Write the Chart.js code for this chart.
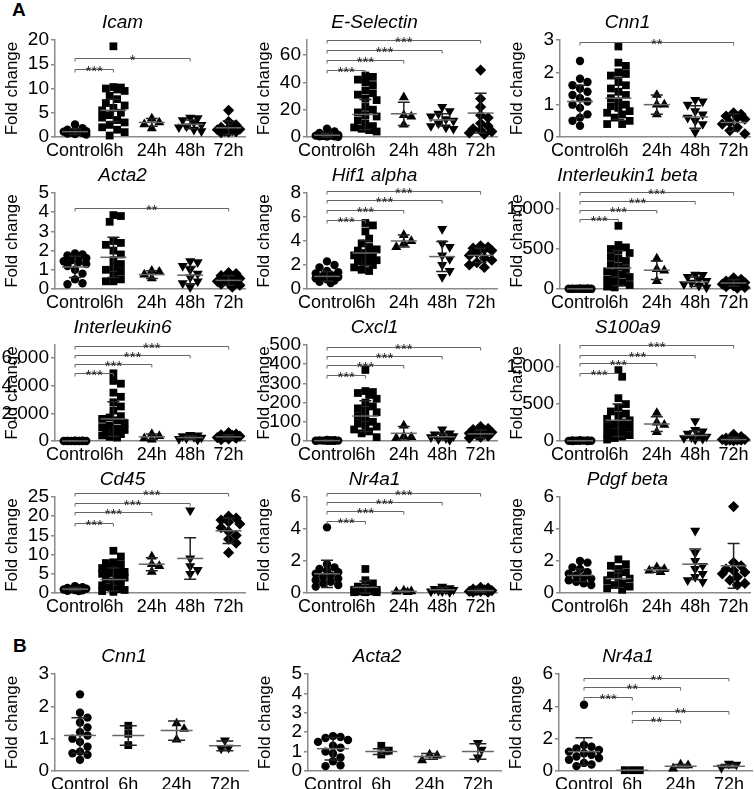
<!DOCTYPE html>
<html>
<head>
<meta charset="utf-8">
<script src="https://cdn.jsdelivr.net/npm/chart.js@4.4.1/dist/chart.umd.min.js"></script>
<style>
  html, body { margin: 0; padding: 0; background: #fff; overflow: hidden; }
  #fig { position: relative; width: 754px; height: 789px; overflow: hidden; }
  .panel { position: absolute; }
  .tag { position: absolute; font: bold 19px 'Liberation Sans', Arial, sans-serif; color: #000; }
</style>
</head>
<body>
<div id="fig">
  <div class="tag" style="left:12px; top:-1px;">A</div>
  <div class="tag" style="left:13px; top:635px;">B</div>
</div>
<script>
// groups and tick labels
const groupsA = ['Control', '6h', '24h', '48h', '72h'];
const groupsB = ['Control', '6h', '24h', '72h'];

// ---- A: Icam ----
const icamValues = [
  [2.6, 1.8, 1.5, 1.3, 1.2, 1.1, 1.0, 0.9, 0.8, 0.7, 0.6, 0.5],
  [18.7, 10.3, 10.2, 10.0, 9.8, 9.5, 8.5, 7.8, 7.0, 6.5, 6.0, 5.5, 5.0, 4.5, 4.0, 3.5, 3.0, 2.5, 2.0, 1.5, 1.0, 0.3],
  [3.8, 3.0, 2.6, 1.8],
  [4.0, 3.9, 3.5, 3.0, 2.5, 2.2, 2.0, 1.5, 1.2],
  [5.5, 3.2, 2.5, 2.0, 1.8, 1.6, 1.5, 1.3, 1.2, 1.1, 1.0, 0.9]
];
const icamMean = [1.1, 5.5, 3.0, 2.6, 1.9];
const icamSd = [0.6, 2.3, 0.8, 0.9, 1.4];
const icamSig = [[0, 1, 14.1, '***'], [0, 3, 16.2, '*']];
const icamTicks = [0, 5, 10, 15, 20];

// ---- A: E-Selectin ----
const eselValues = [
  [6, 4, 3, 2, 1.5, 1, 1, 0.8, 0.5, 0.5, 0.3, 0.2],
  [45, 44, 42, 40, 38, 34, 32, 31, 28, 27, 22, 20, 18, 16, 15, 12, 10, 8, 7, 6, 5, 4],
  [29, 16, 15, 9],
  [22, 19, 17, 15, 13, 12, 10, 8, 7, 6],
  [49, 28, 22, 16, 14, 10, 8, 6, 5, 4, 3, 2]
];
const eselMean = [1.3, 16.5, 17, 12.5, 17.5];
const eselSd = [1.5, 11, 8.5, 4.5, 14.5];
const eselSig = [[0, 1, 49, '***'], [0, 2, 56.5, '***'], [0, 3, 64, '***'], [0, 4, 71, '***']];
const eselTicks = [0, 20, 40, 60];

// ---- A: Cnn1 ----
const cnn1Values = [
  [2.35, 1.8, 1.7, 1.6, 1.5, 1.4, 1.3, 1.2, 1.1, 1.0, 0.9, 0.7, 0.6, 0.5, 0.35],
  [2.8, 2.3, 2.2, 2.0, 1.95, 1.9, 1.7, 1.6, 1.5, 1.4, 1.3, 1.2, 1.1, 1.0, 0.95, 0.9, 0.8, 0.75, 0.7, 0.6, 0.5, 0.4, 0.4],
  [1.3, 1.0, 1.0, 0.7],
  [1.15, 1.1, 1.0, 0.8, 0.7, 0.6, 0.5, 0.4, 0.15],
  [0.75, 0.7, 0.65, 0.6, 0.55, 0.45, 0.4, 0.3, 0.2, 0.1]
];
const cnn1Mean = [1.1, 1.2, 1.0, 0.62, 0.45];
const cnn1Sd = [0.5, 0.65, 0.3, 0.35, 0.27];
const cnn1Sig = [[0, 4, 2.95, '**']];
const cnn1Ticks = [0, 1, 2, 3];

// ---- A: Acta2 ----
const acta2Values = [
  [1.85, 1.8, 1.75, 1.7, 1.6, 1.5, 1.45, 1.4, 1.3, 1.2, 1.0, 0.8, 0.5, 0.3, 0.25],
  [3.85, 3.8, 3.5, 2.5, 2.4, 2.3, 2.0, 1.8, 1.5, 1.3, 1.1, 1.0, 0.9, 0.7, 0.5, 0.4, 0.4],
  [0.95, 0.9, 0.75, 0.55],
  [1.45, 1.4, 1.2, 1.0, 0.8, 0.6, 0.4, 0.3, 0.1],
  [0.85, 0.8, 0.7, 0.6, 0.55, 0.5, 0.4, 0.35, 0.3, 0.25, 0.2, 0.1]
];
const acta2Mean = [1.15, 1.65, 0.75, 0.72, 0.45];
const acta2Sd = [0.55, 1.05, 0.2, 0.45, 0.25];
const acta2Sig = [[0, 4, 4.2, '**']];
const acta2Ticks = [0, 1, 2, 3, 4, 5];

// ---- A: Hif1 alpha ----
const hif1Values = [
  [2.3, 2.0, 1.8, 1.5, 1.4, 1.3, 1.2, 1.1, 1.0, 0.9, 0.8, 0.7, 0.6, 0.5],
  [5.5, 5.3, 4.8, 4.2, 3.8, 3.5, 3.3, 3.2, 3.0, 2.9, 2.8, 2.7, 2.5, 2.4, 2.3, 2.2, 2.0, 1.8, 1.6, 1.5],
  [4.5, 4.0, 3.8, 3.5],
  [5.0, 3.8, 3.5, 2.8, 2.5, 2.0, 1.5, 1.0],
  [3.6, 3.5, 3.4, 3.3, 3.2, 3.0, 2.8, 2.6, 2.4, 2.2, 2.0, 1.8]
];
const hif1Mean = [1.05, 3.0, 4.0, 2.7, 2.8];
const hif1Sd = [0.4, 1.05, 0.5, 1.25, 0.6];
const hif1Sig = [[0, 1, 5.76, '***'], [0, 2, 6.57, '***'], [0, 3, 7.38, '***'], [0, 4, 8.15, '***']];
const hif1Ticks = [0, 2, 4, 6, 8];

// ---- A: Interleukin1 beta ----
const il1bValues = [
  [8, 6, 5, 4, 4, 3, 3, 2, 2, 1, 1, 1],
  [790, 550, 520, 500, 480, 450, 400, 380, 350, 300, 280, 250, 220, 200, 180, 150, 120, 100, 80, 50, 30, 20],
  [380, 250, 230, 100],
  [180, 175, 150, 120, 100, 80, 60, 40, 20],
  [140, 120, 100, 90, 80, 70, 60, 50, 40, 30, 20, 10]
];
const il1bMean = [2, 262, 235, 90, 75];
const il1bSd = [2, 220, 115, 60, 40];
const il1bSig = [[0, 1, 869, '***'], [0, 2, 992, '***'], [0, 3, 1102, '***'], [0, 4, 1215, '***']];
const il1bTicks = [0, 500, 1000];

// ---- A: Interleukin6 ----
const il6Values = [
  [20, 15, 10, 8, 5, 5, 3, 2, 2, 1, 1],
  [4900, 4350, 4150, 3500, 3200, 2800, 2500, 2200, 1800, 1700, 1600, 1500, 1300, 1100, 1000, 900, 800, 700, 600, 500, 400, 300, 250],
  [500, 350, 200, 100],
  [450, 400, 350, 300, 250, 200, 150, 100],
  [600, 500, 450, 400, 350, 300, 250, 200, 150, 100]
];
const il6Mean = [5, 1600, 300, 250, 300];
const il6Sd = [5, 1250, 200, 120, 160];
const il6Sig = [[0, 1, 4920, '***'], [0, 2, 5600, '***'], [0, 3, 6250, '***'], [0, 4, 6900, '***']];
const il6Ticks = [0, 2000, 4000, 6000];

// ---- A: Cxcl1 ----
const cxcl1Values = [
  [5, 4, 3, 3, 2, 2, 1, 1, 1, 1],
  [370, 260, 255, 250, 240, 220, 200, 180, 170, 160, 150, 130, 120, 100, 90, 80, 75, 60, 50, 40, 20],
  [80, 25, 20, 15],
  [60, 40, 35, 30, 25, 20, 15, 10, 5],
  [75, 65, 60, 50, 45, 40, 35, 30, 25, 20, 15]
];
const cxcl1Mean = [2, 130, 40, 22, 37];
const cxcl1Sd = [1.5, 80, 35, 15, 20];
const cxcl1Sig = [[0, 1, 342, '***'], [0, 2, 394, '***'], [0, 3, 443, '***'], [0, 4, 491, '***']];
const cxcl1Ticks = [0, 100, 200, 300, 400, 500];

// ---- A: S100a9 ----
const s100Values = [
  [10, 8, 6, 5, 4, 3, 2, 2, 1, 1],
  [960, 870, 580, 500, 450, 400, 370, 340, 300, 280, 250, 220, 200, 180, 150, 120, 100, 80, 60, 40, 20],
  [380, 250, 220, 120],
  [270, 150, 130, 100, 80, 60, 50, 40, 30, 20],
  [90, 60, 40, 30, 20, 20, 15, 10, 10, 5, 5]
];
const s100Mean = [4, 280, 230, 75, 20];
const s100Sd = [3, 220, 100, 65, 30];
const s100Sig = [[0, 1, 923, '***'], [0, 2, 1050, '***'], [0, 3, 1171, '***'], [0, 4, 1297, '***']];
const s100Ticks = [0, 500, 1000];

// ---- A: Cd45 ----
const cd45Values = [
  [1.8, 1.5, 1.3, 1.2, 1.1, 1.0, 0.9, 0.8, 0.7, 0.6, 0.5],
  [11, 9.5, 8, 7.8, 7.5, 7, 6.5, 6, 5.5, 5.2, 5, 4.5, 4, 3.5, 3, 2.5, 2, 1.5, 1, 0.8, 0.5, 0.3],
  [9.5, 7.5, 7, 5.5],
  [21.5, 9, 7, 6, 5],
  [20, 19.5, 19, 18.5, 18, 17, 16, 15, 14, 13, 10.5]
];
const cd45Mean = [1.0, 3.5, 7.5, 9, 16.2];
const cd45Sd = [0.4, 3.0, 1.7, 5.4, 3.3];
const cd45Sig = [[0, 1, 18.3, '***'], [0, 2, 21, '***'], [0, 3, 23.5, '***'], [0, 4, 26, '***']];
const cd45Ticks = [0, 5, 10, 15, 20, 25];

// ---- A: Nr4a1 ----
const nr4a1Values = [
  [4.1, 1.8, 1.6, 1.5, 1.4, 1.3, 1.2, 1.1, 1.0, 0.9, 0.8, 0.7, 0.6, 0.5, 0.4],
  [1.5, 0.8, 0.6, 0.4, 0.3, 0.2, 0.2, 0.15, 0.1, 0.1, 0.05, 0.05, 0.05, 0.1],
  [0.15, 0.1, 0.08, 0.05],
  [0.4, 0.3, 0.25, 0.2, 0.2, 0.15, 0.1, 0.1, 0.05],
  [0.35, 0.3, 0.25, 0.2, 0.15, 0.15, 0.1, 0.1, 0.05, 0.05]
];
const nr4a1Mean = [1.2, 0.35, 0.1, 0.2, 0.15];
const nr4a1Sd = [0.85, 0.4, 0.05, 0.15, 0.1];
const nr4a1Sig = [[0, 1, 4.5, '***'], [0, 2, 5.1, '***'], [0, 3, 5.7, '***'], [0, 4, 6.28, '***']];
const sixTicks = [0, 2, 4, 6];

// ---- A: Pdgf beta ----
const pdgfValues = [
  [2.0, 1.9, 1.6, 1.5, 1.3, 1.2, 1.1, 1.0, 0.9, 0.8, 0.7, 0.6, 0.5],
  [2.1, 1.8, 1.7, 1.5, 1.3, 1.1, 1.0, 0.9, 0.8, 0.6, 0.5, 0.4, 0.3, 0.2],
  [1.6, 1.5, 1.4, 1.3],
  [3.9, 2.5, 2.0, 1.7, 1.5, 1.2, 1.0, 0.8, 0.7],
  [5.4, 1.9, 1.7, 1.5, 1.4, 1.3, 1.2, 1.0, 0.8, 0.6, 0.5]
];
const pdgfMean = [1.1, 0.9, 1.45, 1.8, 1.7];
const pdgfSd = [0.4, 0.55, 0.15, 0.95, 1.4];

// ---- B: Cnn1 ----
const bCnn1Values = [
  [2.37, 1.8, 1.65, 1.5, 1.35, 1.2, 1.1, 1.0, 0.9, 0.75, 0.6, 0.55, 0.5, 0.35],
  [1.4, 1.15, 0.8],
  [1.47, 1.3, 0.97],
  [0.95, 0.72, 0.7]
];
const bCnn1Mean = [1.1, 1.1, 1.25, 0.78];
const bCnn1Sd = [0.55, 0.3, 0.3, 0.15];

// ---- B: Acta2 ----
const bActa2Values = [
  [1.8, 1.75, 1.7, 1.6, 1.5, 1.3, 1.2, 1.0, 0.9, 0.7, 0.5, 0.3, 0.25],
  [1.3, 1.05, 0.85],
  [0.85, 0.8, 0.55],
  [1.45, 1.1, 0.7]
];
const bActa2Mean = [1.15, 1.0, 0.75, 1.0];
const bActa2Sd = [0.58, 0.15, 0.15, 0.4];

// ---- B: Nr4a1 ----
const bNr4a1Values = [
  [4.1, 1.6, 1.5, 1.4, 1.3, 1.2, 1.1, 1.0, 0.9, 0.8, 0.7, 0.5, 0.4, 0.3],
  [0.05, 0.05, 0.05],
  [0.4, 0.35, 0.15],
  [0.45, 0.4, 0.2]
];
const bNr4a1Mean = [1.2, 0.05, 0.3, 0.3];
const bNr4a1Sd = [0.85, 0.02, 0.1, 0.1];
const bNr4a1Sig = [[0, 1, 4.55, '***'], [0, 2, 5.18, '**'], [0, 3, 5.76, '**'], [1, 3, 3.73, '**'], [1, 2, 3.13, '**']];

// ---- layout / styling ----
const FONT = "'Liberation Sans', Arial, sans-serif";
const AXIS_COLOR = '#8a8a8a';
const styleA = { labels: groupsA, shapes: ['circle', 'rect', 'triangle', 'triangle', 'rectRot'], rot: [0, 0, 0, 180, 0], width: 190, first: 20, step: 38.4, halfMean: 13, halfCap: 6, spread: 13 };
const styleB = { labels: groupsB, shapes: ['circle', 'rect', 'triangle', 'triangle'], rot: [0, 0, 0, 180], width: 193, first: 25, step: 48.3, halfMean: 16, halfCap: 8.5, spread: 15 };
const radius = { circle: 4.2, rect: 5.5, triangle: 5.8, rectRot: 5.6 };

const panels = [
  { title: 'Icam', v: icamValues, m: icamMean, sd: icamSd, sig: icamSig, ticks: icamTicks, max: 20, x: 55, top: 40, h: 97, s: styleA },
  { title: 'E-Selectin', v: eselValues, m: eselMean, sd: eselSd, sig: eselSig, ticks: eselTicks, max: 71, x: 307, top: 40, h: 97, s: styleA },
  { title: 'Cnn1', v: cnn1Values, m: cnn1Mean, sd: cnn1Sd, sig: cnn1Sig, ticks: cnn1Ticks, max: 3, x: 560, top: 40, h: 97, s: styleA },
  { title: 'Acta2', v: acta2Values, m: acta2Mean, sd: acta2Sd, sig: acta2Sig, ticks: acta2Ticks, max: 5, x: 55, top: 193, h: 96, s: styleA },
  { title: 'Hif1 alpha', v: hif1Values, m: hif1Mean, sd: hif1Sd, sig: hif1Sig, ticks: hif1Ticks, max: 8, x: 307, top: 193, h: 96, s: styleA },
  { title: 'Interleukin1 beta', v: il1bValues, m: il1bMean, sd: il1bSd, sig: il1bSig, ticks: il1bTicks, max: 1200, x: 560, top: 193, h: 96, s: styleA },
  { title: 'Interleukin6', v: il6Values, m: il6Mean, sd: il6Sd, sig: il6Sig, ticks: il6Ticks, max: 6950, x: 55, top: 345, h: 96, s: styleA },
  { title: 'Cxcl1', v: cxcl1Values, m: cxcl1Mean, sd: cxcl1Sd, sig: cxcl1Sig, ticks: cxcl1Ticks, max: 500, x: 307, top: 345, h: 96, s: styleA },
  { title: 'S100a9', v: s100Values, m: s100Mean, sd: s100Sd, sig: s100Sig, ticks: s100Ticks, max: 1300, x: 560, top: 345, h: 96, s: styleA },
  { title: 'Cd45', v: cd45Values, m: cd45Mean, sd: cd45Sd, sig: cd45Sig, ticks: cd45Ticks, max: 25, x: 55, top: 497, h: 96, s: styleA },
  { title: 'Nr4a1', v: nr4a1Values, m: nr4a1Mean, sd: nr4a1Sd, sig: nr4a1Sig, ticks: sixTicks, max: 6, x: 307, top: 497, h: 96, s: styleA },
  { title: 'Pdgf beta', v: pdgfValues, m: pdgfMean, sd: pdgfSd, sig: [], ticks: sixTicks, max: 6, x: 560, top: 497, h: 96, s: styleA },
  { title: 'Cnn1', v: bCnn1Values, m: bCnn1Mean, sd: bCnn1Sd, sig: [], ticks: cnn1Ticks, max: 3, x: 55, top: 674, h: 97, s: styleB },
  { title: 'Acta2', v: bActa2Values, m: bActa2Mean, sd: bActa2Sd, sig: [], ticks: acta2Ticks, max: 5, x: 308, top: 674, h: 97, s: styleB },
  { title: 'Nr4a1', v: bNr4a1Values, m: bNr4a1Mean, sd: bNr4a1Sd, sig: bNr4a1Sig, ticks: sixTicks, max: 6, x: 559, top: 674, h: 97, s: styleB }
];

const AXIS_W = 55, HEAD = 40, FOOT = 28, RIGHT = 12;

// spread overlapping points sideways (pixel offsets), like a scatter dot plot
function swarm(vals, pxPerY, maxHalf, d) {
  const placed = [];
  const off = new Array(vals.length).fill(0);
  const order = vals.map((v, i) => i).sort((a, b) => vals[b] - vals[a]);
  const nSteps = Math.floor(maxHalf / (d / 2));
  order.forEach(i => {
    const py = vals[i] * pxPerY;
    let best = 0, bestScore = -1;
    for (let k = 0; k <= 2 * nSteps; k++) {
      const sx = (k % 2 ? 1 : -1) * Math.ceil(k / 2) * d / 2;
      let minD = Infinity;
      placed.forEach(p => {
        const dd = Math.hypot(p.x - sx, p.y - py);
        if (dd < minD) minD = dd;
      });
      if (minD >= d) { best = sx; break; }
      if (minD > bestScore) { bestScore = minD; best = sx; }
    }
    placed.push({ x: best, y: py });
    off[i] = best;
  });
  return off;
}

// mean line, SD whiskers and significance brackets
const statsPlugin = {
  id: 'stats',
  afterDatasetsDraw(chart, args, opts) {
    const { ctx, scales: { x, y } } = chart;
    const st = opts.style;
    ctx.save();
    ctx.lineWidth = 1.5;
    opts.mean.forEach((m, i) => {
      const cx = x.getPixelForValue(i);
      const my = y.getPixelForValue(m);
      const ty = y.getPixelForValue(m + opts.sd[i]);
      const by = y.getPixelForValue(Math.max(m - opts.sd[i], 0));
      ctx.strokeStyle = '#222';
      ctx.beginPath();
      ctx.moveTo(cx, ty); ctx.lineTo(cx, by);
      ctx.moveTo(cx - st.halfCap, ty); ctx.lineTo(cx + st.halfCap, ty);
      ctx.moveTo(cx - st.halfCap, by); ctx.lineTo(cx + st.halfCap, by);
      ctx.stroke();
      ctx.strokeStyle = '#666';
      ctx.beginPath();
      ctx.moveTo(cx - st.halfMean, my); ctx.lineTo(cx + st.halfMean, my);
      ctx.stroke();
    });
    ctx.lineWidth = 1;
    ctx.font = '15px ' + FONT;
    ctx.textAlign = 'center';
    ctx.textBaseline = 'alphabetic';
    opts.sig.forEach(([a, b, v, txt]) => {
      const x1 = x.getPixelForValue(a), x2 = x.getPixelForValue(b);
      const yy = Math.round(y.getPixelForValue(v)) + 0.5;
      ctx.strokeStyle = '#666';
      ctx.beginPath();
      ctx.moveTo(x1, yy + 3); ctx.lineTo(x1, yy); ctx.lineTo(x2, yy); ctx.lineTo(x2, yy + 3);
      ctx.stroke();
      ctx.fillStyle = '#222';
      ctx.fillText(txt, (x1 + x2) / 2, yy + 6);
    });
    ctx.restore();
  }
};

const fig = document.getElementById('fig');

panels.forEach(p => {
  const st = p.s;
  const canvas = document.createElement('canvas');
  const cw = AXIS_W + st.width + RIGHT;
  const ch = HEAD + p.h + FOOT;
  canvas.className = 'panel';
  canvas.width = cw;
  canvas.height = ch;
  canvas.style.left = (p.x - AXIS_W) + 'px';
  canvas.style.top = (p.top - HEAD) + 'px';
  canvas.style.width = cw + 'px';
  canvas.style.height = ch + 'px';
  fig.appendChild(canvas);

  const xMin = -st.first / st.step;
  const xMax = xMin + st.width / st.step;
  const pxPerY = p.h / p.max;

  const datasets = p.v.map((vals, i) => {
    const off = swarm(vals, pxPerY, st.spread, 7.5);
    const shape = st.shapes[i];
    return {
      data: vals.map((v, j) => ({ x: i + off[j] / st.step, y: v })),
      pointStyle: shape,
      rotation: st.rot[i],
      pointRadius: radius[shape],
      backgroundColor: '#000',
      borderColor: '#000',
      borderWidth: 0,
      showLine: false,
      clip: false
    };
  });

  new Chart(canvas, {
    type: 'scatter',
    data: { datasets },
    options: {
      responsive: false,
      animation: false,
      devicePixelRatio: 1,
      layout: { padding: { top: 0, left: 0, bottom: 0, right: RIGHT } },
      plugins: {
        legend: { display: false },
        tooltip: { enabled: false },
        title: {
          display: true,
          text: p.title,
          color: '#000',
          font: { family: FONT, size: 19, style: 'italic', weight: 'normal', lineHeight: 1.2 },
          padding: { top: 11.6, bottom: 5.6 }
        },
        stats: { mean: p.m, sd: p.sd, sig: p.sig, style: st }
      },
      scales: {
        x: {
          type: 'linear',
          min: xMin,
          max: xMax,
          afterBuildTicks: s => { s.ticks = st.labels.map((l, i) => ({ value: i })); },
          afterFit: s => { s.height = FOOT; },
          ticks: {
            callback: v => st.labels[v],
            autoSkip: false, maxRotation: 0, minRotation: 0,
            padding: 3,
            color: '#000',
            font: { family: FONT, size: 18 }
          },
          grid: { display: false, drawTicks: false },
          border: { display: true, color: AXIS_COLOR, width: 1.5 }
        },
        y: {
          min: 0,
          max: p.max,
          afterBuildTicks: s => { s.ticks = p.ticks.map(v => ({ value: v })); },
          afterFit: s => { s.width = AXIS_W; },
          ticks: { autoSkip: false, padding: 2, color: '#000', font: { family: FONT, size: 19 } },
          grid: { display: true, drawOnChartArea: false, drawTicks: true, tickLength: 4, color: AXIS_COLOR, lineWidth: 1.5 },
          border: { display: true, color: AXIS_COLOR, width: 1.5 },
          title: {
            display: true,
            text: 'Fold change',
            color: '#000',
            font: { family: FONT, size: 17 },
            padding: { top: 2, bottom: 0 }
          }
        }
      }
    },
    plugins: [statsPlugin]
  });
});
</script>
</body>
</html>
